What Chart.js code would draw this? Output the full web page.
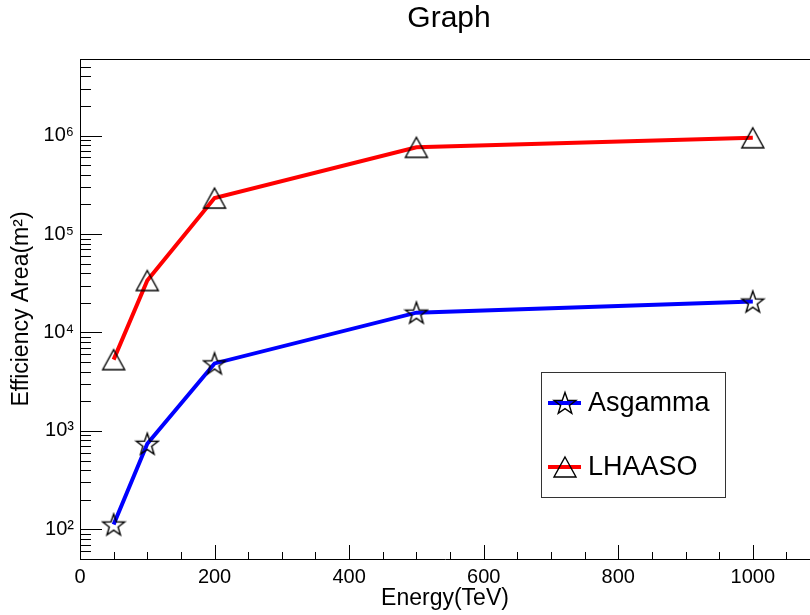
<!DOCTYPE html>
<html>
<head>
<meta charset="utf-8">
<script src="https://cdn.jsdelivr.net/npm/chart.js@4.4.0/dist/chart.umd.min.js"></script>
<style>
  html, body { margin: 0; padding: 0; background: #fff; }
  canvas { display: block; }
</style>
</head>
<body>
<canvas id="chart" width="810" height="615"></canvas>
<script>
const energies = [50, 100, 200, 500, 1000];
const asgamma = [112, 740, 4850, 15900, 20600];
const lhaaso = [5300, 33700, 232000, 760000, 950000];
const xTicks = [0, 200, 400, 600, 800, 1000];
const yTicks = [1e2, 1e3, 1e4, 1e5, 1e6];
const yLabels = ['10²', '10³', '10⁴', '10⁵', '10⁶'];

const FONT = "'Liberation Sans', Arial, sans-serif";
Chart.defaults.font.family = FONT;
Chart.defaults.color = '#000';

// open markers like ROOT's
function starMarker() {
  const c = document.createElement('canvas');
  c.width = 26; c.height = 26;
  const g = c.getContext('2d');
  g.strokeStyle = '#000'; g.lineWidth = 1.4;
  g.beginPath();
  for (let i = 0; i < 10; i++) {
    const r = i % 2 === 0 ? 11.5 : 4.6;
    const a = -Math.PI / 2 + i * Math.PI / 5;
    const px = 13 + r * Math.cos(a), py = 14 + r * Math.sin(a);
    if (i === 0) g.moveTo(px, py); else g.lineTo(px, py);
  }
  g.closePath();
  g.stroke();
  return c;
}
function triMarker() {
  const c = document.createElement('canvas');
  c.width = 26; c.height = 26;
  const g = c.getContext('2d');
  g.strokeStyle = '#000'; g.lineWidth = 1.4;
  g.beginPath();
  g.moveTo(13, 3); g.lineTo(24, 23); g.lineTo(2, 23);
  g.closePath();
  g.stroke();
  return c;
}
const star = starMarker();
const tri = triMarker();

const toPts = (ys) => energies.map((e, i) => ({ x: e, y: ys[i] }));

const rootFrame = {
  id: 'rootFrame',
  afterDraw(chart) {
    const { ctx, chartArea: a, scales: { x, y } } = chart;
    ctx.save();
    ctx.strokeStyle = '#000';
    ctx.lineWidth = 1;
    ctx.beginPath();
    ctx.moveTo(a.left, a.top + 0.5);
    ctx.lineTo(a.right, a.top + 0.5);
    // x ticks, inward
    for (let v = 0; v <= x.max; v += 50) {
      const px = Math.round(x.getPixelForValue(v)) + 0.5;
      const len = v % 200 === 0 ? 14 : 7;
      ctx.moveTo(px, a.bottom);
      ctx.lineTo(px, a.bottom - len);
    }
    // y ticks (log), inward
    for (let d = 1; d <= 7; d++) {
      for (let k = 1; k < 10; k++) {
        const v = k * Math.pow(10, d);
        if (v < y.min || v > y.max) continue;
        const py = Math.round(y.getPixelForValue(v)) + 0.5;
        const len = k === 1 ? 22 : 11;
        ctx.moveTo(a.left, py);
        ctx.lineTo(a.left + len, py);
      }
    }
    ctx.stroke();

    // title
    ctx.fillStyle = '#000';
    ctx.font = '30px ' + FONT;
    ctx.textAlign = 'center';
    ctx.textBaseline = 'alphabetic';
    ctx.fillText('Graph', 449, 27);

    // legend box
    const bx = 541, by = 372, bw = 184, bh = 125;
    ctx.fillStyle = '#fff';
    ctx.fillRect(bx, by, bw, bh);
    ctx.strokeStyle = '#333';
    ctx.strokeRect(bx + 0.5, by + 0.5, bw, bh);
    const entries = [
      { ds: chart.data.datasets[0], yy: 403 },
      { ds: chart.data.datasets[1], yy: 467 }
    ];
    ctx.font = '27px ' + FONT;
    ctx.textAlign = 'left';
    ctx.textBaseline = 'middle';
    entries.forEach(({ ds, yy }) => {
      ctx.strokeStyle = ds.borderColor;
      ctx.lineWidth = ds.borderWidth;
      ctx.beginPath();
      ctx.moveTo(548, yy);
      ctx.lineTo(581, yy);
      ctx.stroke();
      const img = ds.pointStyle;
      ctx.drawImage(img, 565 - img.width / 2, yy - img.height / 2);
      ctx.fillStyle = '#000';
      ctx.fillText(ds.label, 588, yy + 1);
    });
    ctx.restore();
  }
};

new Chart(document.getElementById('chart'), {
  type: 'line',
  data: {
    datasets: [
      {
        label: 'Asgamma',
        data: toPts(asgamma),
        borderColor: '#0000ff',
        borderWidth: 4,
        pointStyle: star,
        pointRadius: 11,
        tension: 0,
        fill: false,
        clip: false
      },
      {
        label: 'LHAASO',
        data: toPts(lhaaso),
        borderColor: '#ff0000',
        borderWidth: 4,
        pointStyle: tri,
        pointRadius: 11,
        tension: 0,
        fill: false,
        clip: false
      }
    ]
  },
  options: {
    responsive: false,
    animation: false,
    devicePixelRatio: 1,
    layout: { autoPadding: false, padding: { top: 59, left: 0, right: 0, bottom: 0 } },
    plugins: { legend: { display: false }, tooltip: { enabled: false }, title: { display: false } },
    scales: {
      x: {
        type: 'linear',
        min: 0,
        max: 1085,
        afterFit: (s) => { s.height = 56; s.paddingLeft = 0; s.paddingRight = 0; },
        afterBuildTicks: (s) => { s.ticks = xTicks.map(v => ({ value: v })); },
        grid: { display: false, drawTicks: false },
        border: { display: true, color: '#000', width: 1 },
        ticks: { font: { size: 20 }, padding: 6, maxRotation: 0, callback: (v) => String(v) },
        title: { display: true, text: 'Energy(TeV)', font: { size: 23 }, padding: 3 }
      },
      y: {
        type: 'logarithmic',
        min: 50,
        max: 6e6,
        afterFit: (s) => { s.width = 80; s.paddingTop = 0; s.paddingBottom = 0; },
        afterBuildTicks: (s) => { s.ticks = yTicks.map(v => ({ value: v })); },
        grid: { display: false, drawTicks: false },
        border: { display: true, color: '#000', width: 1 },
        ticks: {
          font: { size: 20 }, padding: 6,
          callback: (v) => {
            const i = yTicks.findIndex(t => Math.abs(t - v) / t < 1e-6);
            return i >= 0 ? yLabels[i] : '';
          }
        },
        title: { display: true, text: 'Efficiency Area(m²)', font: { size: 23 }, padding: 8 }
      }
    }
  },
  plugins: [rootFrame]
});
</script>
</body>
</html>
